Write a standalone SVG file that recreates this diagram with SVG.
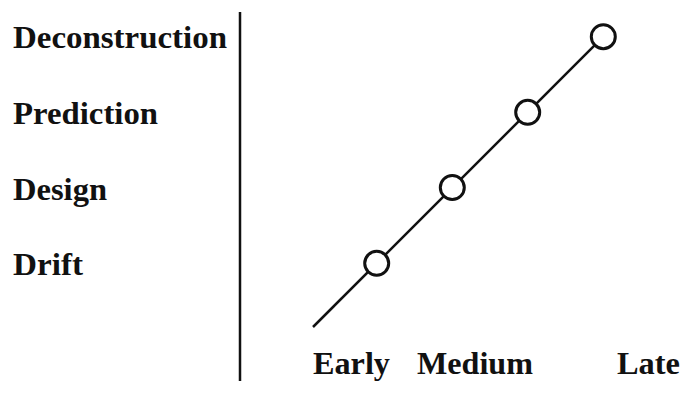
<svg xmlns="http://www.w3.org/2000/svg" width="683" height="410" viewBox="0 0 683 410">
<style>
.lbl{font-family:"Liberation Serif","Times New Roman",serif;font-weight:bold;font-size:31px;fill:#111}
.pt{fill:#fff;stroke:#111;stroke-width:3}
.ln{stroke:#111;stroke-width:2.5;fill:none}
</style>
<rect width="683" height="410" fill="#fff"/>
<g id="axis">
<line class="ln" x1="240" y1="12" x2="240" y2="381" stroke-width="2.2"/>
</g>
<g id="labels">
<text class="lbl" x="13" y="48" textLength="214" lengthAdjust="spacingAndGlyphs">Deconstruction</text>
<text class="lbl" x="13" y="124" textLength="145" lengthAdjust="spacingAndGlyphs">Prediction</text>
<text class="lbl" x="13" y="200" textLength="94" lengthAdjust="spacingAndGlyphs">Design</text>
<text class="lbl" x="13" y="275" textLength="70" lengthAdjust="spacingAndGlyphs">Drift</text>
<text class="lbl" x="313" y="374" textLength="77" lengthAdjust="spacingAndGlyphs">Early</text>
<text class="lbl" x="417" y="374" textLength="116" lengthAdjust="spacingAndGlyphs">Medium</text>
<text class="lbl" x="617" y="374" textLength="63" lengthAdjust="spacingAndGlyphs">Late</text>
</g>
<g id="connectors">
<line class="ln" x1="313" y1="327" x2="603.3" y2="36.7"/>
</g>
<g id="node-drift"><circle class="pt" cx="376.7" cy="263.3" r="12"/></g>
<g id="node-design"><circle class="pt" cx="452.3" cy="187.5" r="12"/></g>
<g id="node-prediction"><circle class="pt" cx="527.7" cy="112.3" r="12"/></g>
<g id="node-deconstruction"><circle class="pt" cx="603.3" cy="36.7" r="12"/></g>
</svg>
